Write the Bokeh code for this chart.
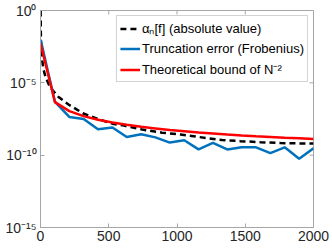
from bokeh.plotting import figure
from bokeh.models import (ColumnDataSource, FixedTicker, CustomJSTickFormatter,
                          Range1d, Legend, LegendItem)
from bokeh.embed import file_html
from bokeh.resources import INLINE

# ---- data ----
n_alpha = [1, 3, 10, 20, 37, 60, 88, 130, 205, 310, 420, 527, 610, 745, 890,
           1026, 1160, 1330, 1465, 1612, 1758, 1900, 2000]
alpha_abs = [1.0, 1.0e-2, 6.3e-4, 1.0e-4, 2.5e-5, 7.9e-6, 3.2e-6, 1.1e-6, 3.2e-7,
             7.9e-8, 3.2e-8, 1.5e-8, 1.1e-8, 5.9e-9, 3.6e-9, 2.7e-9, 1.8e-9,
             1.1e-9, 9.3e-10, 7.9e-10, 6.9e-10, 6.5e-10, 6.3e-10]

n_trunc = [1, 106, 211, 316, 421, 527, 632, 737, 842, 947, 1053, 1158, 1263,
           1368, 1474, 1579, 1684, 1789, 1895, 2000]
trunc_err = [9.5e-3, 4.8e-7, 4.4e-8, 3.2e-8, 6.2e-9, 8.1e-9, 1.8e-9, 2.8e-9,
             1.7e-9, 7.4e-10, 1.07e-9, 2.5e-10, 7.1e-10, 2.5e-10, 3.5e-10,
             3.5e-10, 1.4e-10, 3.5e-10, 5.6e-11, 3.0e-10]
bound = [5.0e-3, 4.6e-7, 1.1e-7, 5.0e-8, 2.8e-8, 1.8e-8, 1.26e-8, 9.1e-9,
         7.1e-9, 5.5e-9, 4.5e-9, 3.7e-9, 3.2e-9, 2.7e-9, 2.3e-9, 2.0e-9,
         1.8e-9, 1.6e-9, 1.45e-9, 1.3e-9]

x_ticks = [0, 500, 1000, 1500, 2000]
y_ticks = [1e-15, 1e-10, 1e-5, 1e0]
y_tick_labels = {"-15": "10\u207b\u00b9\u2075", "-10": "10\u207b\u00b9\u2070",
                 "-5": "10\u207b\u2075", "0": "10\u2070"}

legend_labels = ["\u03b1\u2099[f] (absolute value)",
                 "Truncation error (Frobenius)",
                 "Theoretical bound of N\u207b\u00b2"]

FONT = "Liberation Sans"
FRAME = "#a6a6a6"
TXT = "#262626"
X_MIN, X_MAX = 0, 2000
Y_MIN, Y_MAX = 1e-15, 1.0

p = figure(width=332, height=249, output_backend="svg", toolbar_location=None,
           y_axis_type="log", x_range=Range1d(X_MIN, X_MAX),
           y_range=Range1d(Y_MIN, Y_MAX),
           min_border_left=40, min_border_right=19, min_border_top=10,
           min_border_bottom=22)
p.background_fill_color = "white"
p.border_fill_color = "white"
p.xgrid.visible = False
p.ygrid.visible = False
p.outline_line_color = FRAME
p.outline_line_width = 1

src_a = ColumnDataSource(dict(x=n_alpha, y=alpha_abs))
src_t = ColumnDataSource(dict(x=n_trunc, e=trunc_err, b=bound))

r_a = p.line("x", "y", source=src_a, line_color="black", line_width=2.5,
             line_dash="6 4")
r_t = p.line("x", "e", source=src_t, line_color="#0072BD", line_width=2.5)
r_b = p.line("x", "b", source=src_t, line_color="#FF0000", line_width=2.5)

# inward tick marks on the right and top edges (clipped half-dashes)
p.scatter(x=[X_MAX] * len(y_ticks), y=y_ticks, marker="dash", size=8,
          line_color=FRAME, line_width=1)
p.scatter(x=x_ticks, y=[Y_MAX] * len(x_ticks), marker="dash", size=8, angle=1.5708,
          line_color=FRAME, line_width=1)

fmt = CustomJSTickFormatter(args=dict(m=y_tick_labels), code="""
const e = Math.round(Math.log10(tick));
const key = String(e);
return m[key] !== undefined ? m[key] : "";
""")

for ax in [p.xaxis[0], p.yaxis[0]]:
    ax.axis_line_color = FRAME
    ax.major_tick_line_color = FRAME
    ax.minor_tick_line_color = None
    ax.major_tick_in = 4
    ax.major_tick_out = 0
    ax.major_label_text_font = FONT
    ax.major_label_text_font_size = "14px"
    ax.major_label_text_color = TXT

p.xaxis[0].ticker = FixedTicker(ticks=x_ticks)
p.xaxis[0].major_label_standoff = 3
p.yaxis[0].ticker = FixedTicker(ticks=y_ticks)
p.yaxis[0].formatter = fmt
p.yaxis[0].major_label_standoff = 4

legend = Legend(items=[LegendItem(label=legend_labels[0], renderers=[r_a]),
                       LegendItem(label=legend_labels[1], renderers=[r_t]),
                       LegendItem(label=legend_labels[2], renderers=[r_b])],
                location="top_right")
legend.label_text_font = FONT
legend.label_text_font_size = "13px"
legend.label_text_color = "black"
legend.glyph_width = 20
legend.glyph_height = 15
legend.label_height = 15
legend.spacing = 4
legend.padding = 3
legend.margin = 5
legend.label_standoff = 2
legend.border_line_color = FRAME
legend.border_line_width = 1
legend.background_fill_color = "white"
legend.background_fill_alpha = 1.0
p.add_layout(legend)

open("out.html", "w").write(file_html(p, INLINE))
